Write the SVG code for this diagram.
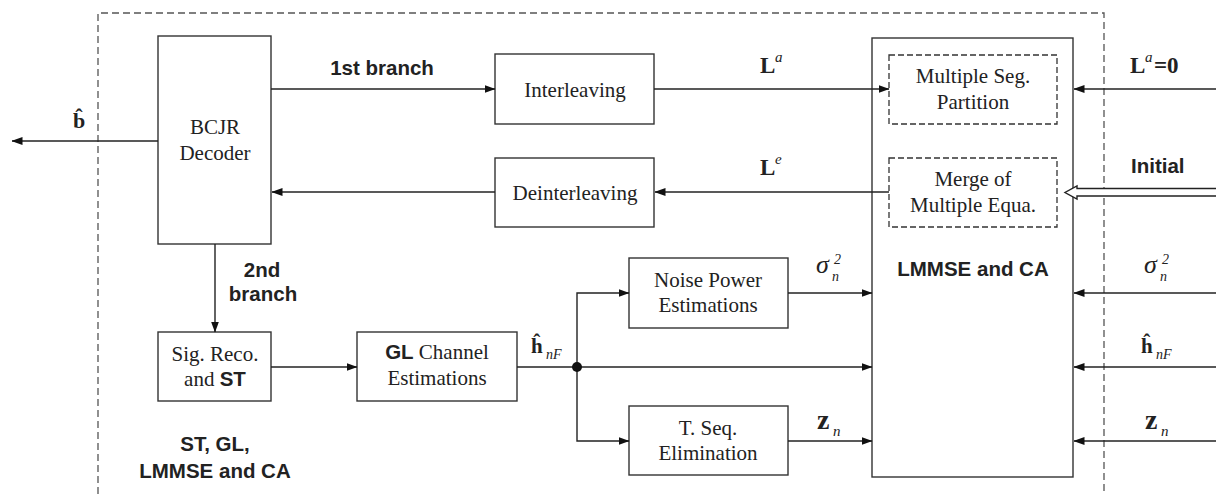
<svg xmlns="http://www.w3.org/2000/svg" width="1216" height="494" viewBox="0 0 1216 494">
  <defs>
    <marker id="arrow" markerUnits="userSpaceOnUse" markerWidth="11" markerHeight="8" refX="10.5" refY="4" orient="auto">
      <path d="M0,0 L11,4 L0,8 z" fill="#111"/>
    </marker>
    <style>
      .box { fill: #fff; stroke: #333; stroke-width: 1.4; }
      .dbox { fill: #fff; stroke: #333; stroke-width: 1.3; stroke-dasharray: 6 3; }
      .frame { fill: none; stroke: #555; stroke-width: 1.3; stroke-dasharray: 7 4; }
      .wire { fill: none; stroke: #222; stroke-width: 1.4; }
      .arr { marker-end: url(#arrow); }
      .serif { font-family: "Liberation Serif", "Times New Roman", serif; font-size: 21px; fill: #222; text-anchor: middle; }
      .sans { font-family: "Liberation Sans", Arial, sans-serif; font-size: 20.5px; font-weight: bold; fill: #222; }
      .mid { text-anchor: middle; }
      .mb { font-family: "Liberation Serif", "Times New Roman", serif; font-weight: bold; fill: #222; }
      .mi { font-family: "Liberation Serif", "Times New Roman", serif; font-style: italic; fill: #222; }
    </style>
  </defs>

  <rect width="1216" height="494" fill="#fff"/>

  <!-- dashed boundary, open at the bottom -->
  <path class="frame" d="M98,494 V13 H1104 V494"/>

  <!-- BCJR decoder -->
  <g id="bcjr">
    <rect class="box" x="158" y="36" width="113" height="208"/>
    <text class="serif" x="215" y="134">BCJR</text>
    <text class="serif" x="215" y="160">Decoder</text>
  </g>

  <!-- interleaving -->
  <g id="interleaving">
    <rect class="box" x="495" y="54" width="159" height="70"/>
    <text class="serif" x="575" y="97">Interleaving</text>
  </g>

  <!-- deinterleaving -->
  <g id="deinterleaving">
    <rect class="box" x="495" y="158" width="159" height="69"/>
    <text class="serif" x="575" y="200">Deinterleaving</text>
  </g>

  <!-- LMMSE and CA block with its two inner stages -->
  <g id="lmmse">
    <rect class="box" x="872" y="38" width="201" height="439"/>
    <text class="sans mid" x="973" y="276">LMMSE and CA</text>
  </g>
  <g id="partition">
    <rect class="dbox" x="889" y="55" width="168" height="69"/>
    <text class="serif" x="973" y="83">Multiple Seg.</text>
    <text class="serif" x="973" y="109">Partition</text>
  </g>
  <g id="merge">
    <rect class="dbox" x="889" y="158" width="168" height="69"/>
    <text class="serif" x="973" y="186">Merge of</text>
    <text class="serif" x="973" y="212">Multiple Equa.</text>
  </g>

  <!-- signal reconstruction -->
  <g id="sigreco">
    <rect class="box" x="158" y="332" width="113" height="69"/>
    <text class="serif" x="215" y="361">Sig. Reco.</text>
    <text class="serif" x="215" y="386">and <tspan class="sans">ST</tspan></text>
  </g>

  <!-- channel estimation -->
  <g id="glchannel">
    <rect class="box" x="357" y="332" width="160" height="69"/>
    <text class="serif" x="437" y="359"><tspan class="sans">GL</tspan> Channel</text>
    <text class="serif" x="437" y="385">Estimations</text>
  </g>

  <!-- noise power estimation -->
  <g id="noise">
    <rect class="box" x="629" y="258" width="159" height="70"/>
    <text class="serif" x="708" y="287">Noise Power</text>
    <text class="serif" x="708" y="312">Estimations</text>
  </g>

  <!-- training sequence elimination -->
  <g id="tseq">
    <rect class="box" x="629" y="406" width="159" height="69"/>
    <text class="serif" x="708" y="435">T. Seq.</text>
    <text class="serif" x="708" y="460">Elimination</text>
  </g>

  <!-- connectors, drawn over the blocks so lines reaching the inner stages stay visible -->
  <g id="connectors">
    <line class="wire arr" x1="158" y1="141" x2="12" y2="141"/>
    <line class="wire arr" x1="271" y1="89" x2="495" y2="89"/>
    <line class="wire arr" x1="654" y1="89" x2="889" y2="89"/>
    <line class="wire arr" x1="1216" y1="89" x2="1074" y2="89"/>
    <line class="wire arr" x1="889" y1="192" x2="655" y2="192"/>
    <line class="wire arr" x1="495" y1="192" x2="272" y2="192"/>
    <line class="wire arr" x1="215" y1="244" x2="215" y2="332"/>
    <line class="wire arr" x1="271" y1="367" x2="357" y2="367"/>
    <line class="wire arr" x1="517" y1="367" x2="872" y2="367"/>
    <path class="wire arr" d="M577,367 V293 H629"/>
    <path class="wire arr" d="M577,367 V441 H629"/>
    <circle cx="577" cy="367" r="5" fill="#111"/>
    <line class="wire arr" x1="788" y1="293" x2="872" y2="293"/>
    <line class="wire arr" x1="788" y1="441" x2="872" y2="441"/>
    <line class="wire arr" x1="1216" y1="293" x2="1074" y2="293"/>
    <line class="wire arr" x1="1216" y1="367" x2="1074" y2="367"/>
    <line class="wire arr" x1="1216" y1="441" x2="1074" y2="441"/>
    <!-- hollow "Initial" arrow -->
    <path d="M1217,188.5 H1077 V186 L1065,192.5 L1077,199 V196 H1217" fill="#fff" stroke="#222" stroke-width="1.4"/>
  </g>

  <!-- labels -->
  <g id="labels">
    <text class="sans mid" x="382" y="75">1st branch</text>
    <text class="sans mid" x="262" y="277">2nd</text>
    <text class="sans mid" x="263" y="301">branch</text>
    <text class="sans mid" x="215" y="451">ST, GL,</text>
    <text class="sans mid" x="215" y="478">LMMSE and CA</text>
    <text class="sans" x="1131" y="173">Initial</text>

    <!-- b hat -->
    <text class="mb" x="73" y="128" font-size="22">b̂</text>

    <!-- L^a, L^e -->
    <text class="mb" x="760" y="73" font-size="23">L</text>
    <text class="mi" x="775" y="62" font-size="15">a</text>
    <text class="mb" x="760" y="175" font-size="23">L</text>
    <text class="mi" x="775" y="164" font-size="15">e</text>

    <!-- L^a = 0 -->
    <text class="mb" x="1130" y="73" font-size="23">L</text>
    <text class="mi" x="1145" y="62" font-size="15">a</text>
    <text class="mb" x="1154" y="73" font-size="23">=0</text>

    <!-- sigma_n^2 -->
    <text class="mi" x="816" y="273" font-size="26">σ</text>
    <text class="mi" x="834" y="264" font-size="14">2</text>
    <text class="mi" x="832" y="281" font-size="14">n</text>
    <text class="mi" x="1144" y="273" font-size="26">σ</text>
    <text class="mi" x="1162" y="264" font-size="14">2</text>
    <text class="mi" x="1160" y="281" font-size="14">n</text>

    <!-- h hat nF -->
    <text class="mb" x="531" y="353" font-size="21">ĥ</text>
    <text class="mi" x="546" y="359" font-size="14">nF</text>
    <text class="mb" x="1141" y="353" font-size="21">ĥ</text>
    <text class="mi" x="1156" y="359" font-size="14">nF</text>

    <!-- z_n -->
    <text class="mb" x="817" y="429" font-size="28">z</text>
    <text class="mi" x="833" y="436" font-size="15">n</text>
    <text class="mb" x="1145" y="429" font-size="28">z</text>
    <text class="mi" x="1161" y="436" font-size="15">n</text>
  </g>
</svg>
